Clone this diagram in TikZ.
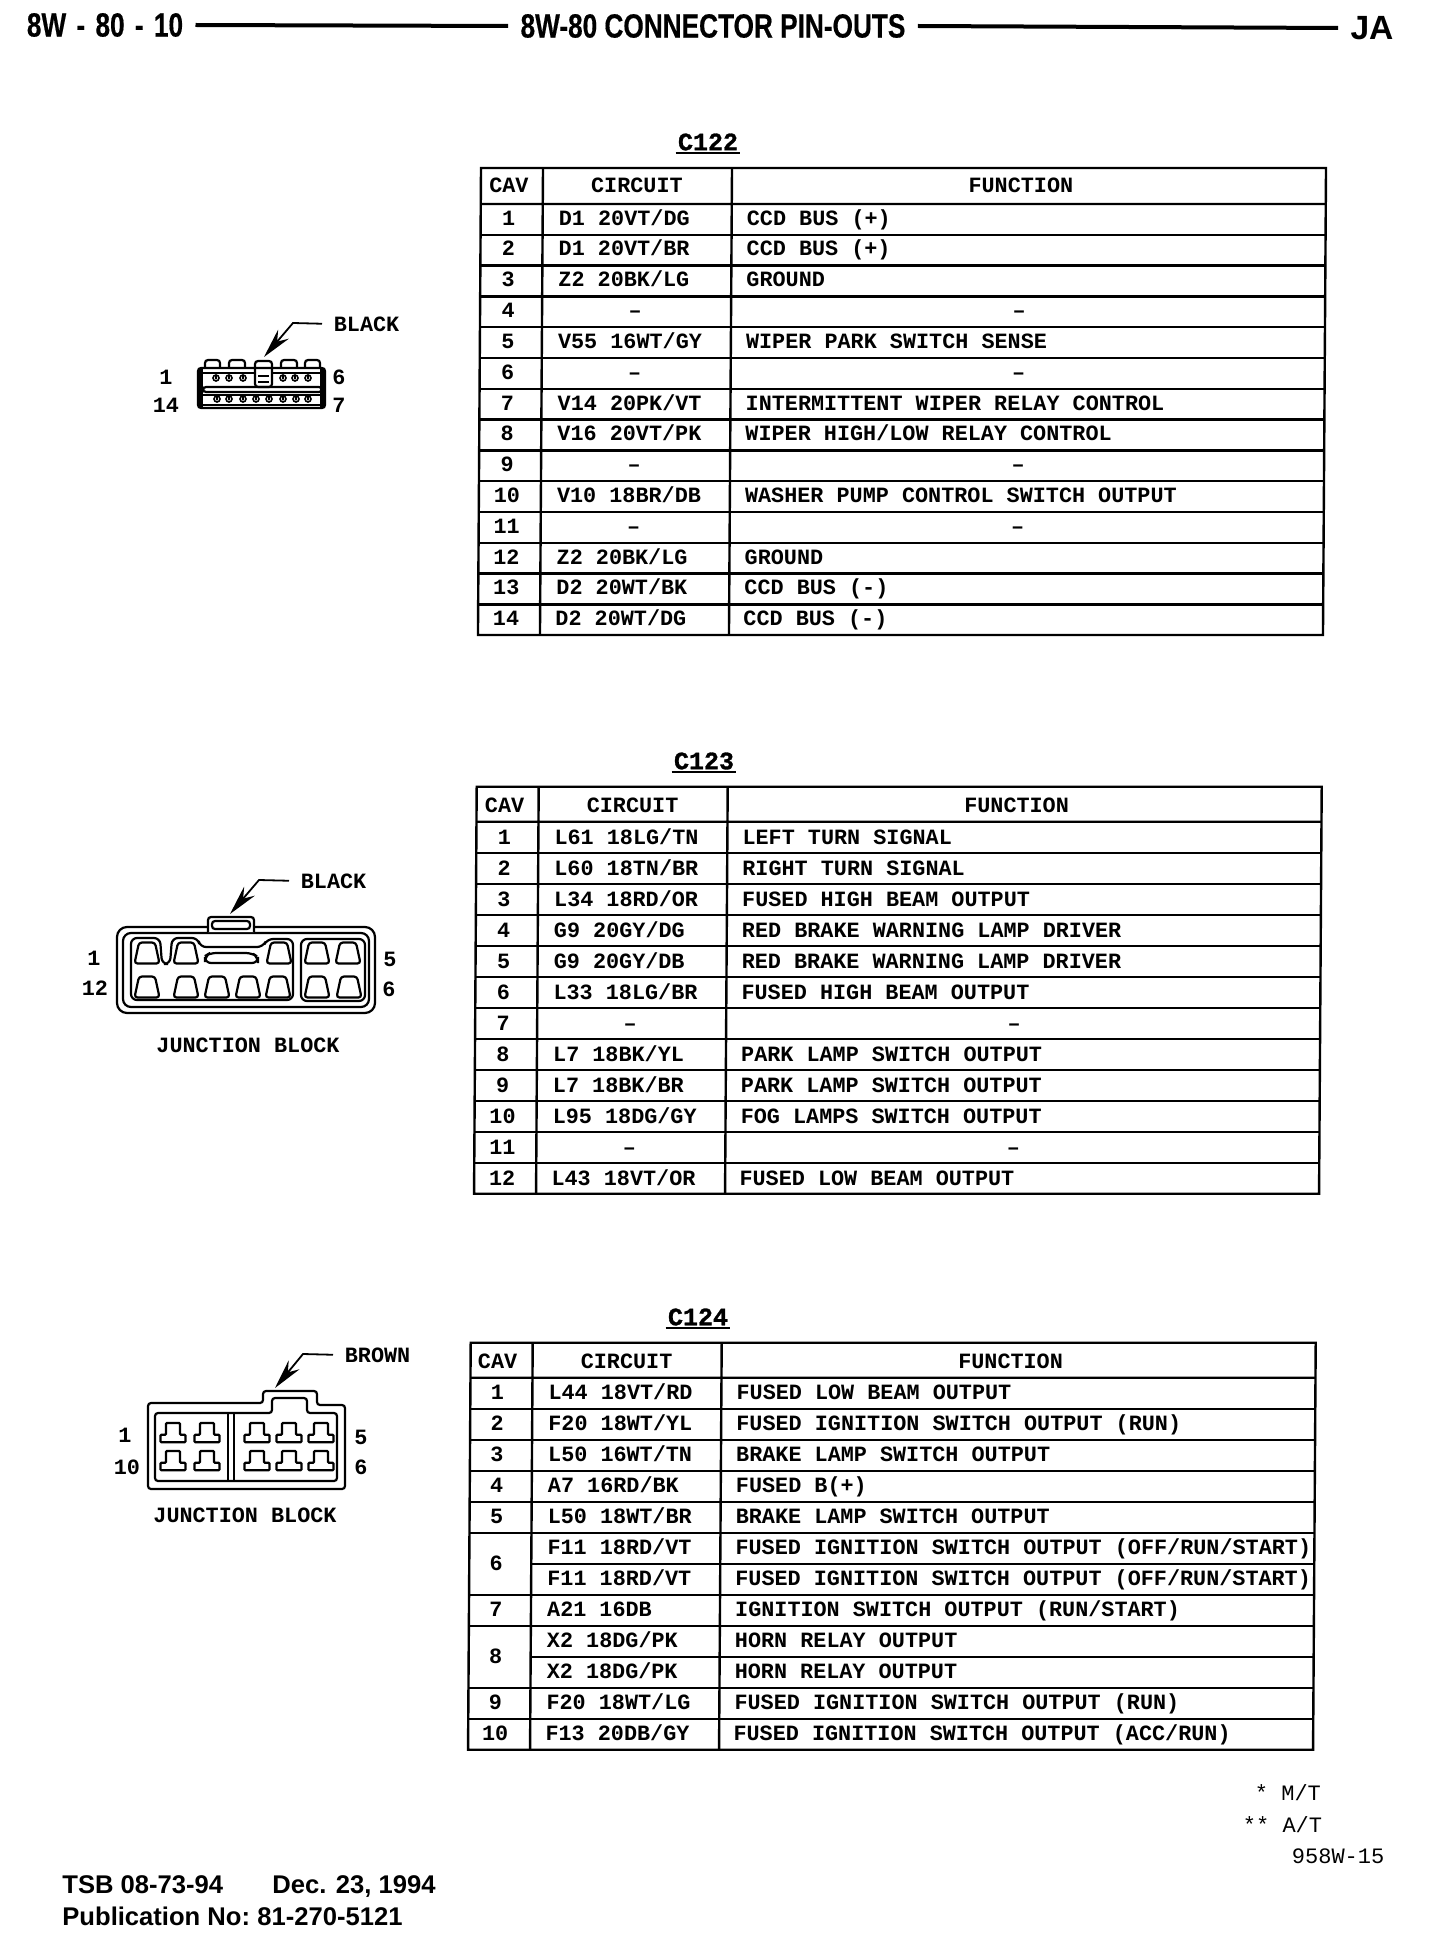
\documentclass[tikz,border=0pt]{standalone}
\usepackage{fontspec}
\usepackage{tikz}
\usetikzlibrary{arrows.meta}
\newfontfamily\tablefont{Liberation Mono}
\newfontfamily\titlefont{Liberation Mono}[BoldFeatures={FakeBold=1.2}]
\newfontfamily\headfont{Liberation Sans}[FakeStretch=0.78,BoldFeatures={FakeBold=0.4}]
\newfontfamily\footfont{Liberation Sans}
\tikzset{
  rule/.style={line width=1.2pt},
  wire/.style={line width=1.1pt,rounded corners=1.5},
  leader/.style={line width=0.9pt,shorten <=5pt,-{Stealth[length=15pt,width=7pt]}},
  headrule/.style={line width=2pt},
  txt/.style={anchor=west,inner sep=0.75pt,text height=7.3pt,text depth=0pt,font=\tablefont\bfseries\fontsize{10.9}{13}\selectfont},
  mid/.style={txt,anchor=center},
  plain/.style={anchor=west,inner sep=0.75pt,font=\tablefont\fontsize{11}{13}\selectfont},
  tabtitle/.style={anchor=center,inner sep=1pt,font=\titlefont\bfseries\fontsize{12.5}{14}\selectfont},
  head/.style={anchor=center,inner ysep=0pt,inner xsep=6pt,font=\headfont\bfseries\fontsize{16.8}{18}\selectfont},
  foot/.style={anchor=base west,inner sep=0pt,font=\footfont\bfseries\fontsize{12.8}{15}\selectfont},
  cavA/.pic={\draw [wire] (-12.5,10.5) -- (-8,-10.5) -- (8,-10.5) -- (12.5,10.5) -- cycle;},
  cavB/.pic={\draw [wire,rounded corners=0.5] (-7,0) -- (7,0) -- (7,11.7) -- (12.5,11.7) -- (12.5,19.3) -- (-12.5,19.3) -- (-12.5,11.7) -- (-7,11.7) -- cycle;},
  pinA/.pic={\draw [line width=0.8pt] (0,0) circle (3) (0,-3) -- (0,1);},
}
\begin{document}
\begin{tikzpicture}[x=0.5pt,y=-0.5pt]
\useasboundingbox (0,0) rectangle (1440,1942);
% page head
\node [head] (pageno) at (105,25) {8W\hspace{1.5pt} -\hspace{1.5pt} 80\hspace{1.5pt} -\hspace{1.5pt} 10};
\node [head] (pagetitle) at (713,26) {8W-80 CONNECTOR PIN-OUTS};
\node [head,font=\footfont\bfseries\fontsize{16.8}{18}\selectfont] (pageja) at (1372,28) {JA};
\draw [headrule] (pageno.east) -- (pagetitle.west);
\draw [headrule] (pagetitle.east) -- (pageja.west);
% C122 connector
\draw [wire] (198,368) rectangle (325,408);
\draw [wire] (205,368) -- (205,360) -- (220,360) -- (220,368);
\draw [wire] (229,368) -- (229,360) -- (245,360) -- (245,368);
\draw [wire] (281,368) -- (281,360) -- (297,360) -- (297,368);
\draw [wire] (305,368) -- (305,360) -- (320,360) -- (320,368);
\draw [wire] (255,361) rectangle (272,387);
\draw [wire] (258,368) -- (269,368) (258,376) -- (269,376) (258,382) -- (269,382);
\draw [wire] (198,373) -- (255,373) (272,373) -- (325,373);
\draw [wire] (203,387) rectangle (322,392);
\draw [wire] (198,395) -- (325,395) (198,405) -- (325,405);
\draw [line width=2pt] (201,368) -- (201,408) (322,368) -- (322,408);
\pic at (216,378) {pinA};
\pic at (229,378) {pinA};
\pic at (243,378) {pinA};
\pic at (283,378) {pinA};
\pic at (295,378) {pinA};
\pic at (308,378) {pinA};
\pic at (217,399) {pinA};
\pic at (229,399) {pinA};
\pic at (243,399) {pinA};
\pic at (256,399) {pinA};
\pic at (269,399) {pinA};
\pic at (283,399) {pinA};
\pic at (296,399) {pinA};
\pic at (308,399) {pinA};
\node [txt] (blackA) at (332,324) {BLACK};
\coordinate (bendA) at (293,323);
\coordinate (tipA) at (264,357);
\draw [leader] (blackA.west) -- (bendA) -- (tipA);
\node [mid] (pinA1) at (166,377) {1};
\node [mid] (pinA14) at (166,405) {14};
\node [mid] (pinA6) at (339,377) {6};
\node [mid] (pinA7) at (339,405) {7};
% C123 connector
\draw [wire,rounded corners=5] (117,927) rectangle (375,1013);
\draw [wire,rounded corners=4] (123,933) rectangle (369,1007);
\draw [wire,fill=white] (208,932) -- (208,917) -- (254,917) -- (254,932);
\draw [wire] (212,921) rectangle (250,929);
\draw [wire,rounded corners=3] (131,938) -- (160,938) -- (162,964) -- (170,964) -- (172,938) -- (198,938) -- (200,947) -- (263,947) -- (267,939) -- (293,939) -- (293,1000) -- (131,1000) -- cycle;
\draw [wire,rounded corners=3] (301,939) rectangle (365,1001);
\draw [wire,rounded corners=3] (205,963) -- (205,956) -- (210,953) -- (252,953) -- (258,957) -- (258,963) -- cycle;
\pic at (147,953) {cavA};
\pic at (186,953) {cavA};
\pic at (279,953) {cavA};
\pic at (317,953) {cavA};
\pic at (348,953) {cavA};
\pic at (147,987) {cavA};
\pic at (186,987) {cavA};
\pic at (217,987) {cavA};
\pic at (248,987) {cavA};
\pic at (278,987) {cavA};
\pic at (317,987) {cavA};
\pic at (349,987) {cavA};
\node [txt] (blackB) at (299,881) {BLACK};
\coordinate (bendB) at (259,880);
\coordinate (tipB) at (230,914);
\draw [leader] (blackB.west) -- (bendB) -- (tipB);
\node [mid] (pinB1) at (94,958) {1};
\node [mid] (pinB12) at (95,988) {12};
\node [mid] (pinB5) at (390,959) {5};
\node [mid] (pinB6) at (389,989) {6};
\node [mid] (blockB) at (248,1045) {JUNCTION BLOCK};
% C124 connector
\draw [wire] (148,1403) -- (263,1403) -- (263,1391) -- (317,1391) -- (317,1405) -- (345,1405) -- (345,1489) -- (148,1489) -- cycle;
\draw [wire] (155,1413) -- (272,1413) -- (272,1398) -- (307,1398) -- (307,1413) -- (337,1413) -- (337,1481) -- (155,1481) -- cycle;
\draw [wire] (228,1413) -- (228,1481) (234,1413) -- (234,1481);
\pic at (173,1423) {cavB};
\pic at (207,1423) {cavB};
\pic at (257,1423) {cavB};
\pic at (289,1423) {cavB};
\pic at (321,1423) {cavB};
\pic at (173,1451) {cavB};
\pic at (207,1451) {cavB};
\pic at (257,1451) {cavB};
\pic at (289,1451) {cavB};
\pic at (321,1451) {cavB};
\node [txt] (brownC) at (343,1355) {BROWN};
\coordinate (bendC) at (303,1354);
\coordinate (tipC) at (275,1388);
\draw [leader] (brownC.west) -- (bendC) -- (tipC);
\node [mid] (pinC1) at (125,1435) {1};
\node [mid] (pinC10) at (127,1467) {10};
\node [mid] (pinC5) at (361,1437) {5};
\node [mid] (pinC6) at (361,1467) {6};
\node [mid] (blockC) at (245,1515) {JUNCTION BLOCK};
% C122 table
\node [tabtitle] (titleA) at (708,142) {C122};
\draw [line width=1pt] (titleA.south west) -- (titleA.south east);
\begin{scope}[shift={(481,168)},xslant=.0065]
\draw [rule] (0,0) rectangle (845,467);
\draw [rule] (62,0) -- (62,467) (251,0) -- (251,467) (0,36) -- (845,36);
\node [mid] (a0) at (28,17) {CAV};
\node [mid] (b0) at (156,17) {CIRCUIT};
\node [mid] (d0) at (540,17) {FUNCTION};
\draw [rule] (0,66.8) -- (845,66.8) (28,49.9) node [mid] (a1) {1} (75.5,49.9) node [txt] (b1) {D1 20VT/DG} (263.5,49.9) node [txt] (d1) {CCD BUS (+)};
\draw [rule] (0,97.6) -- (845,97.6) (28,80.7) node [mid] (a2) {2} (75.5,80.7) node [txt] (b2) {D1 20VT/BR} (263.5,80.7) node [txt] (d2) {CCD BUS (+)};
\draw [rule] (0,128.4) -- (845,128.4) (28,111.5) node [mid] (a3) {3} (75.5,111.5) node [txt] (b3) {Z2 20BK/LG} (263.5,111.5) node [txt] (d3) {GROUND};
\draw [rule] (0,159.2) -- (845,159.2) (28,142.3) node [mid] (a4) {4} (155,142.3) node [mid] (b4) {–} (539,142.3) node [mid] (d4) {–};
\draw [rule] (0,190) -- (845,190) (28,173.1) node [mid] (a5) {5} (75.5,173.1) node [txt] (b5) {V55 16WT/GY} (263.5,173.1) node [txt] (d5) {WIPER PARK SWITCH SENSE};
\draw [rule] (0,220.8) -- (845,220.8) (28,203.9) node [mid] (a6) {6} (155,203.9) node [mid] (b6) {–} (539,203.9) node [mid] (d6) {–};
\draw [rule] (0,251.6) -- (845,251.6) (28,234.7) node [mid] (a7) {7} (75.5,234.7) node [txt] (b7) {V14 20PK/VT} (263.5,234.7) node [txt] (d7) {INTERMITTENT WIPER RELAY CONTROL};
\draw [rule] (0,282.4) -- (845,282.4) (28,265.5) node [mid] (a8) {8} (75.5,265.5) node [txt] (b8) {V16 20VT/PK} (263.5,265.5) node [txt] (d8) {WIPER HIGH/LOW RELAY CONTROL};
\draw [rule] (0,313.2) -- (845,313.2) (28,296.3) node [mid] (a9) {9} (155,296.3) node [mid] (b9) {–} (539,296.3) node [mid] (d9) {–};
\draw [rule] (0,344) -- (845,344) (28,327.1) node [mid] (a10) {10} (75.5,327.1) node [txt] (b10) {V10 18BR/DB} (263.5,327.1) node [txt] (d10) {WASHER PUMP CONTROL SWITCH OUTPUT};
\draw [rule] (0,374.8) -- (845,374.8) (28,357.9) node [mid] (a11) {11} (155,357.9) node [mid] (b11) {–} (539,357.9) node [mid] (d11) {–};
\draw [rule] (0,405.6) -- (845,405.6) (28,388.7) node [mid] (a12) {12} (75.5,388.7) node [txt] (b12) {Z2 20BK/LG} (263.5,388.7) node [txt] (d12) {GROUND};
\draw [rule] (0,436.4) -- (845,436.4) (28,419.5) node [mid] (a13) {13} (75.5,419.5) node [txt] (b13) {D2 20WT/BK} (263.5,419.5) node [txt] (d13) {CCD BUS (-)};
\draw (28,450.3) node [mid] (a14) {14} (75.5,450.3) node [txt] (b14) {D2 20WT/DG} (263.5,450.3) node [txt] (d14) {CCD BUS (-)};
\end{scope}
% C123 table
\node [tabtitle] (titleB) at (704,761) {C123};
\draw [line width=1pt] (titleB.south west) -- (titleB.south east);
\begin{scope}[shift={(476.7,786.7)},xslant=.0065]
\draw [rule] (0,0) rectangle (845,407);
\draw [rule] (62,0) -- (62,407) (251,0) -- (251,407) (0,35) -- (845,35);
\node [mid] (e0) at (28,18) {CAV};
\node [mid] (f0) at (156,18) {CIRCUIT};
\node [mid] (g0) at (540,18) {FUNCTION};
\draw [rule] (0,66) -- (845,66) (28,50) node [mid] (e1) {1} (75.5,50) node [txt] (f1) {L61 18LG/TN} (263.5,50) node [txt] (g1) {LEFT TURN SIGNAL};
\draw [rule] (0,97) -- (845,97) (28,81) node [mid] (e2) {2} (75.5,81) node [txt] (f2) {L60 18TN/BR} (263.5,81) node [txt] (g2) {RIGHT TURN SIGNAL};
\draw [rule] (0,128) -- (845,128) (28,112) node [mid] (e3) {3} (75.5,112) node [txt] (f3) {L34 18RD/OR} (263.5,112) node [txt] (g3) {FUSED HIGH BEAM OUTPUT};
\draw [rule] (0,159) -- (845,159) (28,143) node [mid] (e4) {4} (75.5,143) node [txt] (f4) {G9 20GY/DG} (263.5,143) node [txt] (g4) {RED BRAKE WARNING LAMP DRIVER};
\draw [rule] (0,190) -- (845,190) (28,174) node [mid] (e5) {5} (75.5,174) node [txt] (f5) {G9 20GY/DB} (263.5,174) node [txt] (g5) {RED BRAKE WARNING LAMP DRIVER};
\draw [rule] (0,221) -- (845,221) (28,205) node [mid] (e6) {6} (75.5,205) node [txt] (f6) {L33 18LG/BR} (263.5,205) node [txt] (g6) {FUSED HIGH BEAM OUTPUT};
\draw [rule] (0,252) -- (845,252) (28,236) node [mid] (e7) {7} (155,236) node [mid] (f7) {–} (539,236) node [mid] (g7) {–};
\draw [rule] (0,283) -- (845,283) (28,267) node [mid] (e8) {8} (75.5,267) node [txt] (f8) {L7 18BK/YL} (263.5,267) node [txt] (g8) {PARK LAMP SWITCH OUTPUT};
\draw [rule] (0,314) -- (845,314) (28,298) node [mid] (e9) {9} (75.5,298) node [txt] (f9) {L7 18BK/BR} (263.5,298) node [txt] (g9) {PARK LAMP SWITCH OUTPUT};
\draw [rule] (0,345) -- (845,345) (28,329) node [mid] (e10) {10} (75.5,329) node [txt] (f10) {L95 18DG/GY} (263.5,329) node [txt] (g10) {FOG LAMPS SWITCH OUTPUT};
\draw [rule] (0,376) -- (845,376) (28,360) node [mid] (e11) {11} (155,360) node [mid] (f11) {–} (539,360) node [mid] (g11) {–};
\draw (28,391) node [mid] (e12) {12} (75.5,391) node [txt] (f12) {L43 18VT/OR} (263.5,391) node [txt] (g12) {FUSED LOW BEAM OUTPUT};
\end{scope}
% C124 table
\node [tabtitle] (titleC) at (698,1317) {C124};
\draw [line width=1pt] (titleC.south west) -- (titleC.south east);
\begin{scope}[shift={(470.7,1342.7)},xslant=.0065]
\draw [rule] (0,0) rectangle (845,407);
\draw [rule] (62,0) -- (62,407) (251,0) -- (251,407) (0,35) -- (845,35);
\node [mid] (h0) at (27,18) {CAV};
\node [mid] (k0) at (156,18) {CIRCUIT};
\node [mid] (m0) at (540,18) {FUNCTION};
\draw [rule] (0,66) -- (845,66) (27,49) node [mid] (h1) {1} (75.5,49) node [txt] (k1) {L44 18VT/RD} (263.5,49) node [txt] (m1) {FUSED LOW BEAM OUTPUT};
\draw [rule] (0,97) -- (845,97) (27,80) node [mid] (h2) {2} (75.5,80) node [txt] (k2) {F20 18WT/YL} (263.5,80) node [txt] (m2) {FUSED IGNITION SWITCH OUTPUT (RUN)};
\draw [rule] (0,128) -- (845,128) (27,111) node [mid] (h3) {3} (75.5,111) node [txt] (k3) {L50 16WT/TN} (263.5,111) node [txt] (m3) {BRAKE LAMP SWITCH OUTPUT};
\draw [rule] (0,159) -- (845,159) (27,142) node [mid] (h4) {4} (75.5,142) node [txt] (k4) {A7 16RD/BK} (263.5,142) node [txt] (m4) {FUSED B(+)};
\draw [rule] (0,190) -- (845,190) (27,173) node [mid] (h5) {5} (75.5,173) node [txt] (k5) {L50 18WT/BR} (263.5,173) node [txt] (m5) {BRAKE LAMP SWITCH OUTPUT};
\draw [rule] (62,221) -- (845,221) (75.5,204) node [txt] (k6) {F11 18RD/VT} (263.5,204) node [txt] (m6) {FUSED IGNITION SWITCH OUTPUT (OFF/RUN/START)};
\draw [rule] (0,252) -- (845,252) (27,220) node [mid] (h6) {6} (75.5,235) node [txt] (k6b) {F11 18RD/VT} (263.5,235) node [txt] (m6b) {FUSED IGNITION SWITCH OUTPUT (OFF/RUN/START)};
\draw [rule] (0,283) -- (845,283) (27,266) node [mid] (h7) {7} (75.5,266) node [txt] (k7) {A21 16DB} (263.5,266) node [txt] (m7) {IGNITION SWITCH OUTPUT (RUN/START)};
\draw [rule] (62,314) -- (845,314) (75.5,297) node [txt] (k8) {X2 18DG/PK} (263.5,297) node [txt] (m8) {HORN RELAY OUTPUT};
\draw [rule] (0,345) -- (845,345) (27,313) node [mid] (h8) {8} (75.5,328) node [txt] (k8b) {X2 18DG/PK} (263.5,328) node [txt] (m8b) {HORN RELAY OUTPUT};
\draw [rule] (0,376) -- (845,376) (27,359) node [mid] (h9) {9} (75.5,359) node [txt] (k9) {F20 18WT/LG} (263.5,359) node [txt] (m9) {FUSED IGNITION SWITCH OUTPUT (RUN)};
\draw (27,390) node [mid] (h10) {10} (75.5,390) node [txt] (k10) {F13 20DB/GY} (263.5,390) node [txt] (m10) {FUSED IGNITION SWITCH OUTPUT (ACC/RUN)};
\end{scope}
% notes and foot
\node [plain] (noteMT) at (1253,1793) {* M/T};
\node [plain] (noteAT) at (1241,1825) {** A/T};
\node [plain] (noteref) at (1290,1856) {958W-15};
\node [foot] (footA) at (62,1893) {TSB 08-73-94};
\node [foot] (footB) at (272,1893) {Dec. 23, 1994};
\node [foot] (footC) at (62,1925) {Publication No:};
\node [foot] (footD) at (257,1925) {81-270-5121};
\end{tikzpicture}
\end{document}
